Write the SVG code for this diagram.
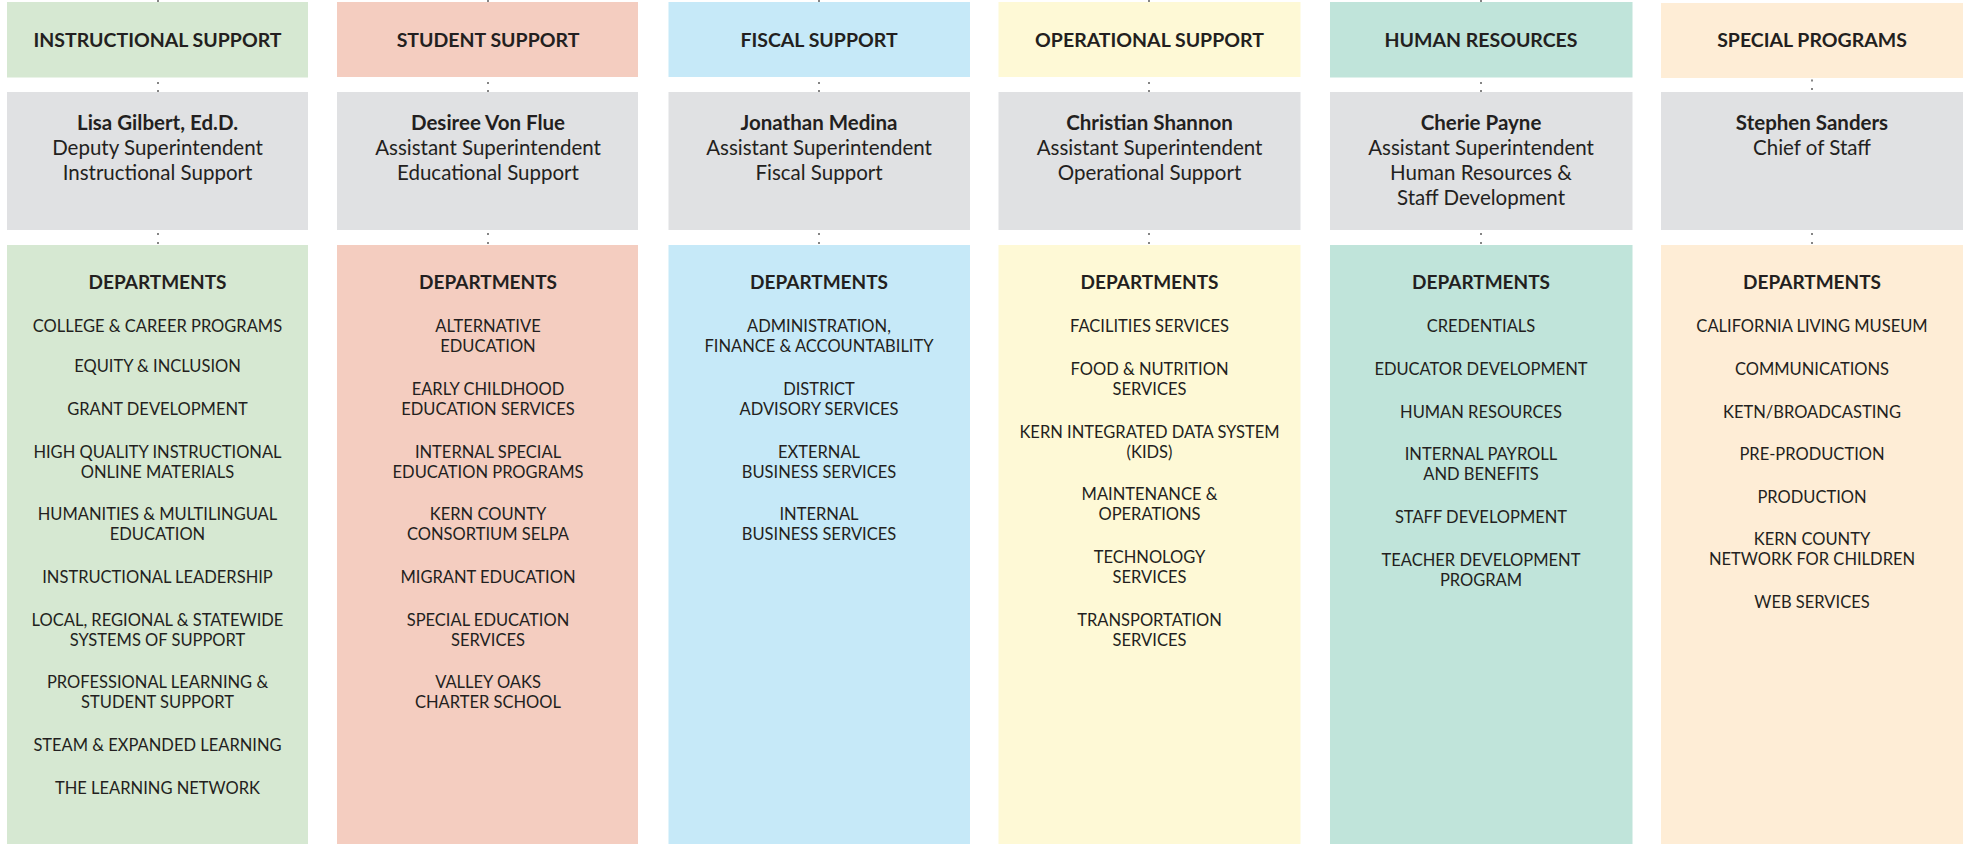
<svg xmlns="http://www.w3.org/2000/svg" width="1963" height="844" viewBox="0 0 1963 844">
<style>
text{font-family:Lato,"Liberation Sans",sans-serif;fill:#231f20;text-anchor:middle}
.hdr{font-weight:700;font-size:19.5px}
.name{font-weight:700;font-size:20.5px}
.ttl{font-weight:400;font-size:20.5px}
.dh{font-weight:700;font-size:19px}
.it{font-weight:400;font-size:16.5px}
.gray{fill:#e0e1e3}
.c1{fill:#d6e8d2}.c2{fill:#f4cdc0}.c3{fill:#c6e9f8}.c4{fill:#fef9d6}.c5{fill:#c0e4da}.c6{fill:#feedd6}
.conn line{stroke:#858585;stroke-width:2}
</style>
<rect width="1963" height="844" fill="#ffffff"/>
<g id="connectors" class="conn">
<line x1="158" y1="0" x2="158" y2="2"/><line x1="158" y1="82" x2="158" y2="92" stroke-dasharray="2 6"/><line x1="158" y1="233" x2="158" y2="245" stroke-dasharray="2 7"/>
<line x1="488" y1="0" x2="488" y2="2"/><line x1="488" y1="82" x2="488" y2="92" stroke-dasharray="2 6"/><line x1="488" y1="233" x2="488" y2="245" stroke-dasharray="2 7"/>
<line x1="819" y1="0" x2="819" y2="2"/><line x1="819" y1="82" x2="819" y2="92" stroke-dasharray="2 6"/><line x1="819" y1="233" x2="819" y2="245" stroke-dasharray="2 7"/>
<line x1="1149" y1="0" x2="1149" y2="2"/><line x1="1149" y1="82" x2="1149" y2="92" stroke-dasharray="2 6"/><line x1="1149" y1="233" x2="1149" y2="245" stroke-dasharray="2 7"/>
<line x1="1481" y1="0" x2="1481" y2="2"/><line x1="1481" y1="82" x2="1481" y2="92" stroke-dasharray="2 6"/><line x1="1481" y1="233" x2="1481" y2="245" stroke-dasharray="2 7"/>
<line x1="1812" y1="79.5" x2="1812" y2="92" stroke-dasharray="2 6.5"/><line x1="1812" y1="233" x2="1812" y2="245" stroke-dasharray="2 7"/>
</g>

<g id="col1-header"><rect class="c1" x="7" y="2" width="301" height="75.5"/><text class="hdr" x="157.5" y="47">INSTRUCTIONAL SUPPORT</text></g>
<g id="col1-leader"><rect class="gray" x="7" y="92" width="301" height="138"/>
<text class="name" x="157.5" y="130">Lisa Gilbert, Ed.D.</text>
<text class="ttl" x="157.5" y="155">Deputy Superintendent</text>
<text class="ttl" x="157.5" y="180">Instructional Support</text></g>
<g id="col1-departments"><rect class="c1" x="7" y="245" width="301" height="599"/>
<text class="dh" x="157.5" y="289">DEPARTMENTS</text>
<text class="it" x="157.5" y="332">COLLEGE &amp; CAREER PROGRAMS</text>
<text class="it" x="157.5" y="372">EQUITY &amp; INCLUSION</text>
<text class="it" x="157.5" y="415">GRANT DEVELOPMENT</text>
<text class="it" x="157.5" y="458">HIGH QUALITY INSTRUCTIONAL</text>
<text class="it" x="157.5" y="478">ONLINE MATERIALS</text>
<text class="it" x="157.5" y="520">HUMANITIES &amp; MULTILINGUAL</text>
<text class="it" x="157.5" y="540">EDUCATION</text>
<text class="it" x="157.5" y="583">INSTRUCTIONAL LEADERSHIP</text>
<text class="it" x="157.5" y="626">LOCAL, REGIONAL &amp; STATEWIDE</text>
<text class="it" x="157.5" y="646">SYSTEMS OF SUPPORT</text>
<text class="it" x="157.5" y="688">PROFESSIONAL LEARNING &amp;</text>
<text class="it" x="157.5" y="708">STUDENT SUPPORT</text>
<text class="it" x="157.5" y="751">STEAM &amp; EXPANDED LEARNING</text>
<text class="it" x="157.5" y="794">THE LEARNING NETWORK</text></g>

<g id="col2-header"><rect class="c2" x="337" y="2" width="301" height="75"/><text class="hdr" x="488" y="47">STUDENT SUPPORT</text></g>
<g id="col2-leader"><rect class="gray" x="337" y="92" width="301" height="138"/>
<text class="name" x="488" y="130">Desiree Von Flue</text>
<text class="ttl" x="488" y="155">Assistant Superintendent</text>
<text class="ttl" x="488" y="180">Educational Support</text></g>
<g id="col2-departments"><rect class="c2" x="337" y="245" width="301" height="599"/>
<text class="dh" x="488" y="289">DEPARTMENTS</text>
<text class="it" x="488" y="332">ALTERNATIVE</text>
<text class="it" x="488" y="352">EDUCATION</text>
<text class="it" x="488" y="395">EARLY CHILDHOOD</text>
<text class="it" x="488" y="415">EDUCATION SERVICES</text>
<text class="it" x="488" y="458">INTERNAL SPECIAL</text>
<text class="it" x="488" y="478">EDUCATION PROGRAMS</text>
<text class="it" x="488" y="520">KERN COUNTY</text>
<text class="it" x="488" y="540">CONSORTIUM SELPA</text>
<text class="it" x="488" y="583">MIGRANT EDUCATION</text>
<text class="it" x="488" y="626">SPECIAL EDUCATION</text>
<text class="it" x="488" y="646">SERVICES</text>
<text class="it" x="488" y="688">VALLEY OAKS</text>
<text class="it" x="488" y="708">CHARTER SCHOOL</text></g>

<g id="col3-header"><rect class="c3" x="668.5" y="2" width="301.5" height="75"/><text class="hdr" x="819" y="47">FISCAL SUPPORT</text></g>
<g id="col3-leader"><rect class="gray" x="668.5" y="92" width="301.5" height="138"/>
<text class="name" x="819" y="130">Jonathan Medina</text>
<text class="ttl" x="819" y="155">Assistant Superintendent</text>
<text class="ttl" x="819" y="180">Fiscal Support</text></g>
<g id="col3-departments"><rect class="c3" x="668.5" y="245" width="301.5" height="599"/>
<text class="dh" x="819" y="289">DEPARTMENTS</text>
<text class="it" x="819" y="332">ADMINISTRATION,</text>
<text class="it" x="819" y="352">FINANCE &amp; ACCOUNTABILITY</text>
<text class="it" x="819" y="395">DISTRICT</text>
<text class="it" x="819" y="415">ADVISORY SERVICES</text>
<text class="it" x="819" y="458">EXTERNAL</text>
<text class="it" x="819" y="478">BUSINESS SERVICES</text>
<text class="it" x="819" y="520">INTERNAL</text>
<text class="it" x="819" y="540">BUSINESS SERVICES</text></g>

<g id="col4-header"><rect class="c4" x="998.5" y="2" width="302" height="75"/><text class="hdr" x="1149.5" y="47">OPERATIONAL SUPPORT</text></g>
<g id="col4-leader"><rect class="gray" x="998.5" y="92" width="302" height="138"/>
<text class="name" x="1149.5" y="130">Christian Shannon</text>
<text class="ttl" x="1149.5" y="155">Assistant Superintendent</text>
<text class="ttl" x="1149.5" y="180">Operational Support</text></g>
<g id="col4-departments"><rect class="c4" x="998.5" y="245" width="302" height="599"/>
<text class="dh" x="1149.5" y="289">DEPARTMENTS</text>
<text class="it" x="1149.5" y="332">FACILITIES SERVICES</text>
<text class="it" x="1149.5" y="375">FOOD &amp; NUTRITION</text>
<text class="it" x="1149.5" y="395">SERVICES</text>
<text class="it" x="1149.5" y="438">KERN INTEGRATED DATA SYSTEM</text>
<text class="it" x="1149.5" y="458">(KIDS)</text>
<text class="it" x="1149.5" y="500">MAINTENANCE &amp;</text>
<text class="it" x="1149.5" y="520">OPERATIONS</text>
<text class="it" x="1149.5" y="563">TECHNOLOGY</text>
<text class="it" x="1149.5" y="583">SERVICES</text>
<text class="it" x="1149.5" y="626">TRANSPORTATION</text>
<text class="it" x="1149.5" y="646">SERVICES</text></g>

<g id="col5-header"><rect class="c5" x="1330" y="2" width="302.5" height="75.5"/><text class="hdr" x="1481" y="47">HUMAN RESOURCES</text></g>
<g id="col5-leader"><rect class="gray" x="1330" y="92" width="302.5" height="138"/>
<text class="name" x="1481" y="130">Cherie Payne</text>
<text class="ttl" x="1481" y="155">Assistant Superintendent</text>
<text class="ttl" x="1481" y="180">Human Resources &amp;</text>
<text class="ttl" x="1481" y="205">Staff Development</text></g>
<g id="col5-departments"><rect class="c5" x="1330" y="245" width="302.5" height="599"/>
<text class="dh" x="1481" y="289">DEPARTMENTS</text>
<text class="it" x="1481" y="332">CREDENTIALS</text>
<text class="it" x="1481" y="375">EDUCATOR DEVELOPMENT</text>
<text class="it" x="1481" y="418">HUMAN RESOURCES</text>
<text class="it" x="1481" y="460">INTERNAL PAYROLL</text>
<text class="it" x="1481" y="480">AND BENEFITS</text>
<text class="it" x="1481" y="523">STAFF DEVELOPMENT</text>
<text class="it" x="1481" y="566">TEACHER DEVELOPMENT</text>
<text class="it" x="1481" y="586">PROGRAM</text></g>

<g id="col6-header"><rect class="c6" x="1661" y="3" width="302" height="75"/><text class="hdr" x="1812" y="47">SPECIAL PROGRAMS</text></g>
<g id="col6-leader"><rect class="gray" x="1661" y="92" width="302" height="138"/>
<text class="name" x="1812" y="130">Stephen Sanders</text>
<text class="ttl" x="1812" y="155">Chief of Staff</text></g>
<g id="col6-departments"><rect class="c6" x="1661" y="245" width="302" height="599"/>
<text class="dh" x="1812" y="289">DEPARTMENTS</text>
<text class="it" x="1812" y="332">CALIFORNIA LIVING MUSEUM</text>
<text class="it" x="1812" y="375">COMMUNICATIONS</text>
<text class="it" x="1812" y="418">KETN/BROADCASTING</text>
<text class="it" x="1812" y="460">PRE-PRODUCTION</text>
<text class="it" x="1812" y="503">PRODUCTION</text>
<text class="it" x="1812" y="545">KERN COUNTY</text>
<text class="it" x="1812" y="565">NETWORK FOR CHILDREN</text>
<text class="it" x="1812" y="608">WEB SERVICES</text></g>
</svg>
